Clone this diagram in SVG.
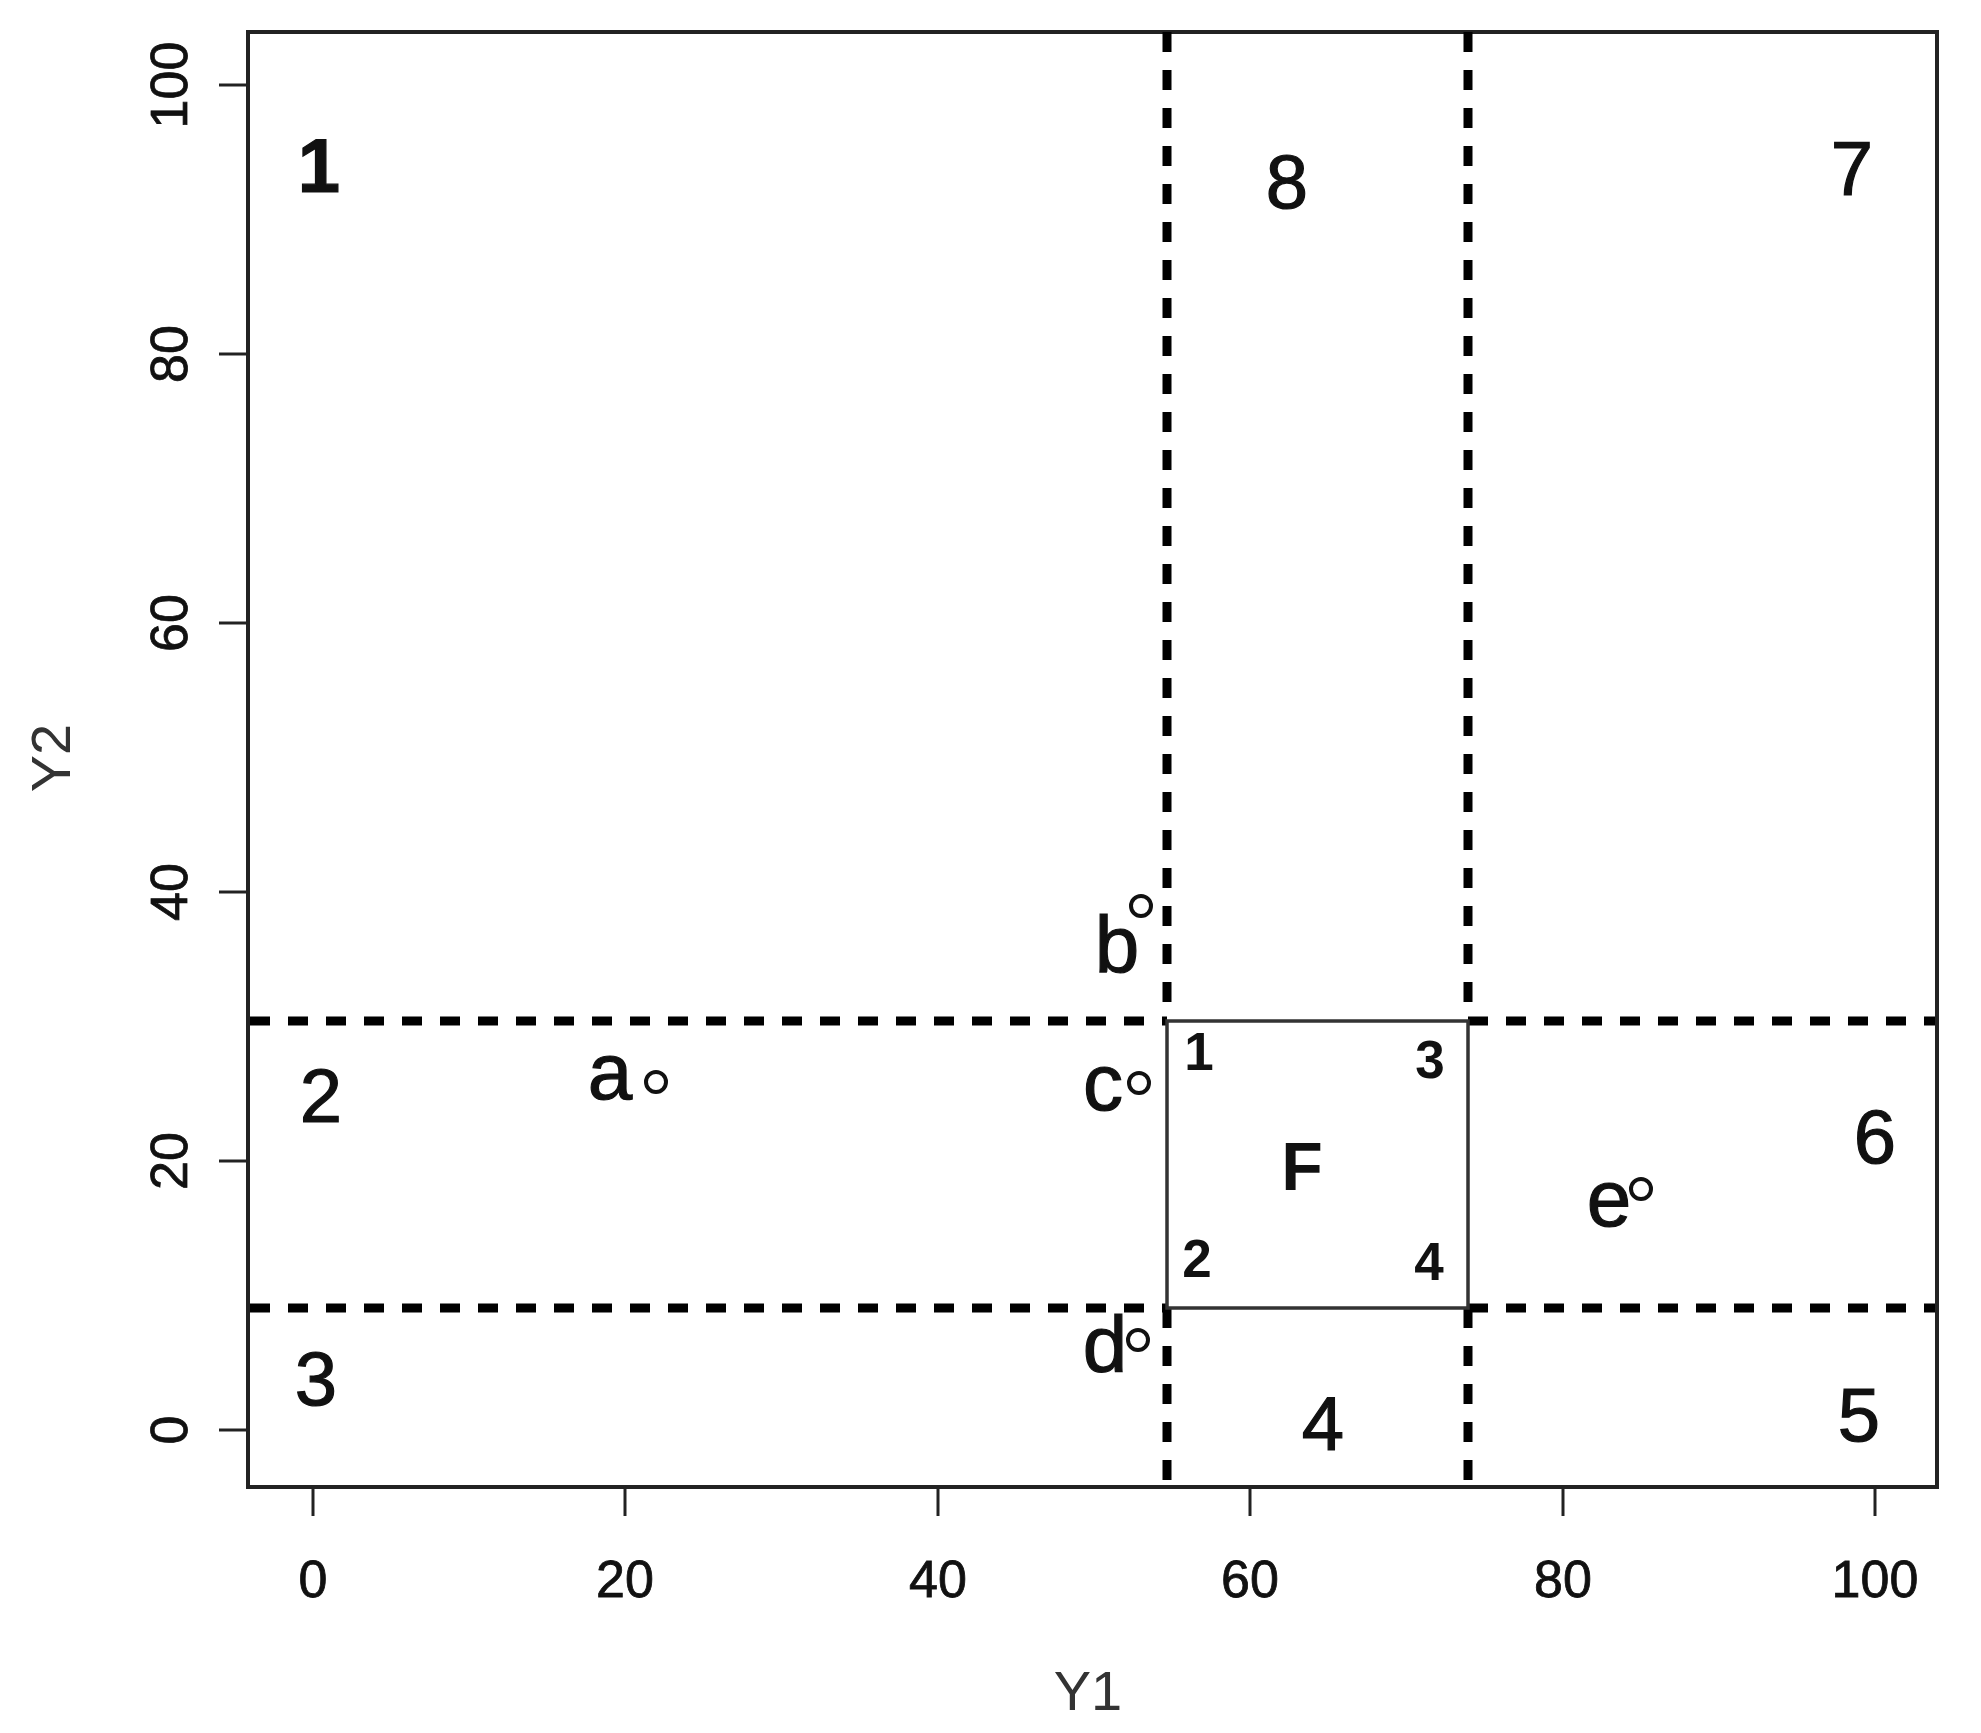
<svg xmlns="http://www.w3.org/2000/svg" width="1981" height="1733" viewBox="0 0 1981 1733">
<style>
text{font-family:"Liberation Sans",Arial,sans-serif;fill:#111}
.tk{font-size:52px;text-anchor:middle;stroke:#111;stroke-width:0.8}
.ax{font-size:56px;text-anchor:middle;fill:#333}
.rg{font-size:76px;text-anchor:middle;stroke:#111;stroke-width:1.2}
.lt{font-size:80px;text-anchor:middle;stroke:#111;stroke-width:1.2}
.bx{font-size:53px;font-weight:bold;text-anchor:middle}
.dash{stroke:#000;stroke-width:9;stroke-dasharray:20 18;fill:none}
.tick{stroke:#222;stroke-width:3}
.pt{fill:none;stroke:#111;stroke-width:4}
</style>
<rect width="1981" height="1733" fill="#fff"/>
<g id="axes">
<rect x="248" y="32" width="1689" height="1455" fill="none" stroke="#222" stroke-width="4"/>
<g class="tick">
<line x1="313" y1="1487" x2="313" y2="1516"/>
<line x1="625" y1="1487" x2="625" y2="1516"/>
<line x1="938" y1="1487" x2="938" y2="1516"/>
<line x1="1250" y1="1487" x2="1250" y2="1516"/>
<line x1="1563" y1="1487" x2="1563" y2="1516"/>
<line x1="1875" y1="1487" x2="1875" y2="1516"/>
<line x1="219" y1="1430" x2="248" y2="1430"/>
<line x1="219" y1="1161" x2="248" y2="1161"/>
<line x1="219" y1="892" x2="248" y2="892"/>
<line x1="219" y1="623" x2="248" y2="623"/>
<line x1="219" y1="354" x2="248" y2="354"/>
<line x1="219" y1="85" x2="248" y2="85"/>
</g>
<text class="tk" x="313" y="1597">0</text>
<text class="tk" x="625" y="1597">20</text>
<text class="tk" x="938" y="1597">40</text>
<text class="tk" x="1250" y="1597">60</text>
<text class="tk" x="1563" y="1597">80</text>
<text class="tk" x="1875" y="1597">100</text>
<text class="tk" transform="translate(187,1430) rotate(-90)">0</text>
<text class="tk" transform="translate(187,1161) rotate(-90)">20</text>
<text class="tk" transform="translate(187,892) rotate(-90)">40</text>
<text class="tk" transform="translate(187,623) rotate(-90)">60</text>
<text class="tk" transform="translate(187,354) rotate(-90)">80</text>
<text class="tk" transform="translate(187,85) rotate(-90)">100</text>
<text class="ax" x="1088" y="1710">Y1</text>
<text class="ax" transform="translate(70,758) rotate(-90)">Y2</text>
</g>
<g id="connectors">
<line class="dash" x1="1167" y1="32" x2="1167" y2="1021"/>
<line class="dash" x1="1167" y1="1308" x2="1167" y2="1487"/>
<line class="dash" x1="1468" y1="32" x2="1468" y2="1021"/>
<line class="dash" x1="1468" y1="1308" x2="1468" y2="1487"/>
<line class="dash" x1="250" y1="1021" x2="1167" y2="1021"/>
<line class="dash" x1="1468" y1="1021" x2="1935" y2="1021"/>
<line class="dash" x1="250" y1="1308" x2="1167" y2="1308"/>
<line class="dash" x1="1468" y1="1308" x2="1935" y2="1308"/>
</g>
<g id="box-F">
<rect x="1167" y="1021" width="301" height="287" fill="none" stroke="#333" stroke-width="3.5"/>
<text x="1302" y="1190" style="font-size:68px;font-weight:bold;text-anchor:middle">F</text>
<text class="bx" x="1199" y="1070">1</text>
<text class="bx" x="1430" y="1078">3</text>
<text class="bx" x="1197" y="1277">2</text>
<text class="bx" x="1429" y="1280">4</text>
</g>
<g id="regions">
<text class="rg" x="319" y="192" font-weight="bold">1</text>
<text class="rg" x="321" y="1122">2</text>
<text class="rg" x="316" y="1405">3</text>
<text class="rg" x="1323" y="1450">4</text>
<text class="rg" x="1859" y="1441">5</text>
<text class="rg" x="1875" y="1163">6</text>
<text class="rg" x="1852" y="195">7</text>
<text class="rg" x="1287" y="208">8</text>
</g>
<g id="point-a"><text class="lt" x="610" y="1099">a</text><circle class="pt" cx="656" cy="1082" r="10"/></g>
<g id="point-b"><text class="lt" x="1117" y="972">b</text><circle class="pt" cx="1141" cy="906" r="10"/></g>
<g id="point-c"><text class="lt" x="1103" y="1110">c</text><circle class="pt" cx="1139" cy="1083" r="10"/></g>
<g id="point-d"><text class="lt" x="1105" y="1372">d</text><circle class="pt" cx="1138" cy="1340" r="10"/></g>
<g id="point-e"><text class="lt" x="1609" y="1226">e</text><circle class="pt" cx="1641" cy="1189" r="10"/></g>
</svg>
